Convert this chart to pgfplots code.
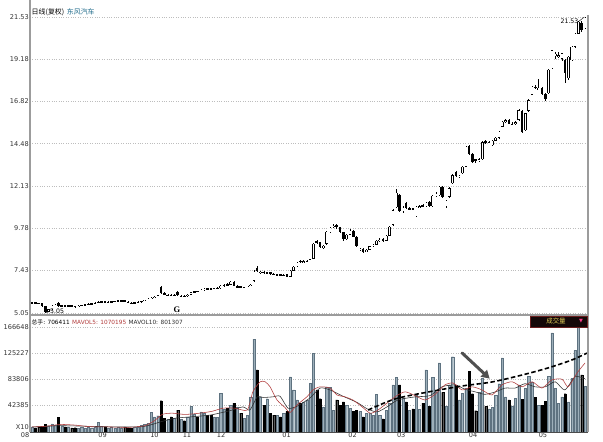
\documentclass[border=0pt]{standalone}
\usepackage{pgfplots}
\pgfplotsset{compat=1.18}
\usepackage{pgfplotstable}
\usepackage{fontspec}
\setmainfont{DejaVu Sans}
\newfontfamily\cjk{Noto Sans CJK SC}
\newfontfamily\serifb{Liberation Serif}
\usetikzlibrary{arrows.meta}

\definecolor{gridgray}{HTML}{BDBDBD}
\definecolor{framegray}{HTML}{9C9C9C}
\definecolor{volup}{HTML}{9DAFBA}
\definecolor{volupedge}{HTML}{5E7280}
\definecolor{ma5}{HTML}{B03A3A}
\definecolor{ma10}{HTML}{2E2E2E}
\definecolor{titleblue}{HTML}{1F6A8A}
\definecolor{boxbg}{HTML}{140808}
\definecolor{boxedge}{HTML}{6A1E1E}
\definecolor{boxyellow}{HTML}{E2CE58}
\definecolor{boxpink}{HTML}{FF3C8C}
\definecolor{arrowgray}{HTML}{505050}

% daily bars: index, open, high, low, close, volume
\pgfplotstableread{
i o h l c v
0 5.60 5.66 5.56 5.63 7000
1 5.63 5.66 5.58 5.60 6500
2 5.60 5.62 5.54 5.57 8000
3 5.58 5.60 5.38 5.42 9500
4 5.42 5.44 5.05 5.12 12000
5 5.12 5.30 5.08 5.27 10000
6 5.27 5.48 5.24 5.45 13000
7 5.45 5.56 5.42 5.52 11000
8 5.60 5.64 5.38 5.42 23000
9 5.42 5.50 5.38 5.47 9000
10 5.47 5.52 5.42 5.45 8000
11 5.45 5.50 5.40 5.48 8500
12 5.48 5.52 5.40 5.44 6500
13 5.44 5.46 5.36 5.40 7000
14 5.40 5.48 5.38 5.46 6000
15 5.46 5.52 5.44 5.50 7000
16 5.50 5.54 5.46 5.52 6000
17 5.52 5.58 5.50 5.56 7500
18 5.56 5.62 5.52 5.58 6500
19 5.58 5.66 5.56 5.63 8000
20 5.63 5.72 5.60 5.68 15000
21 5.68 5.72 5.64 5.70 9000
22 5.70 5.72 5.64 5.66 8000
23 5.66 5.70 5.62 5.67 6000
24 5.67 5.72 5.64 5.70 7000
25 5.70 5.74 5.66 5.72 6000
26 5.72 5.76 5.70 5.74 7000
27 5.74 5.78 5.70 5.75 6500
28 5.77 5.80 5.66 5.68 8000
29 5.68 5.70 5.58 5.62 7000
30 5.62 5.66 5.56 5.60 6000
31 5.60 5.66 5.58 5.63 7000
32 5.63 5.70 5.60 5.67 8000
33 5.67 5.74 5.64 5.72 11000
34 5.72 5.80 5.70 5.78 12000
35 5.78 5.86 5.76 5.84 14000
36 5.84 5.94 5.82 5.90 31000
37 5.90 6.00 5.88 5.96 24000
38 5.96 6.08 5.94 6.05 26000
39 6.48 6.58 6.12 6.16 50000
40 6.16 6.20 6.06 6.10 22000
41 6.04 6.10 6.00 6.07 20000
42 6.07 6.10 6.00 6.05 24000
43 6.05 6.10 6.00 6.06 22000
44 6.22 6.26 6.00 6.03 35000
45 5.96 6.04 5.94 6.00 20000
46 6.00 6.04 5.93 5.97 18000
47 5.97 6.10 5.95 6.08 24000
48 6.08 6.24 6.06 6.20 41000
49 6.20 6.28 6.16 6.25 28000
50 6.27 6.30 6.20 6.23 24000
51 6.23 6.36 6.22 6.34 32000
52 6.34 6.42 6.30 6.40 30000
53 6.43 6.46 6.36 6.39 27000
54 6.41 6.46 6.36 6.38 27000
55 6.38 6.46 6.36 6.44 24000
56 6.40 6.48 6.38 6.44 23000
57 6.44 6.60 6.40 6.57 62000
58 6.57 6.66 6.52 6.62 36000
59 6.64 6.70 6.56 6.60 38000
60 6.62 6.84 6.60 6.80 42000
61 6.80 6.84 6.54 6.56 46000
62 6.50 6.62 6.48 6.54 40000
63 6.54 6.56 6.44 6.47 30000
64 6.47 6.52 6.44 6.50 22000
65 6.50 6.58 6.48 6.56 27000
66 6.56 6.66 6.54 6.62 56000
67 6.85 7.42 6.80 7.35 148000
68 7.58 7.64 7.36 7.38 99000
69 7.28 7.38 7.22 7.34 56000
70 7.36 7.40 7.24 7.28 43000
71 7.26 7.34 7.22 7.31 53000
72 7.31 7.34 7.18 7.22 30000
73 7.22 7.28 7.14 7.18 27000
74 7.16 7.24 7.14 7.21 27000
75 7.21 7.24 7.12 7.16 24000
76 7.14 7.22 7.12 7.19 30000
77 7.22 7.24 7.04 7.07 33000
78 7.07 7.44 7.04 7.40 88000
79 7.40 7.66 7.38 7.62 67000
80 7.64 7.90 7.60 7.86 51000
81 7.96 8.02 7.86 7.90 46000
82 7.88 7.98 7.84 7.94 48000
83 7.94 8.00 7.88 7.96 51000
84 7.96 8.08 7.92 8.04 78000
85 8.08 8.96 8.04 8.90 125000
86 9.04 9.10 8.88 8.96 67000
87 8.98 9.00 8.66 8.70 53000
88 8.70 8.82 8.64 8.78 40000
89 8.90 9.60 8.86 9.56 72000
90 9.56 9.86 9.50 9.80 71000
91 9.82 10.02 9.76 9.92 35000
92 9.94 9.98 9.74 9.84 51000
93 9.82 9.86 9.50 9.55 43000
94 9.55 9.58 9.08 9.15 48000
95 9.15 9.46 9.10 9.42 43000
96 9.42 9.70 9.38 9.64 38000
97 9.62 9.66 9.26 9.30 33000
98 9.30 9.34 8.72 8.76 35000
99 8.56 8.66 8.50 8.62 33000
100 8.62 8.66 8.40 8.46 24000
101 8.46 8.62 8.44 8.58 30000
102 8.58 8.80 8.56 8.76 30000
103 8.76 8.90 8.72 8.86 27000
104 8.86 9.10 8.84 9.06 60000
105 9.06 9.20 9.00 9.12 27000
106 9.16 9.22 9.02 9.08 21000
107 9.08 9.40 9.06 9.36 35000
108 9.36 9.90 9.32 9.86 46000
109 9.96 10.85 9.90 10.78 75000
110 10.95 11.95 10.90 11.75 87000
111 11.62 11.70 10.66 10.72 75000
112 10.72 10.98 10.60 10.90 54000
113 11.17 11.22 10.86 10.90 48000
114 10.84 10.94 10.78 10.88 35000
115 10.88 10.92 10.78 10.82 37000
116 10.45 11.00 10.40 10.96 59000
117 10.92 11.08 10.88 10.98 36000
118 11.08 11.10 10.94 10.98 46000
119 10.98 11.24 10.94 11.20 99000
120 11.22 11.26 10.96 11.02 41000
121 10.98 11.64 10.94 11.58 87000
122 11.58 11.78 11.50 11.70 64000
123 11.62 12.12 11.58 12.08 110000
124 12.06 12.10 11.46 11.52 63000
125 10.98 11.34 10.92 11.30 41000
126 11.52 12.04 11.48 12.00 75000
127 12.27 12.80 12.24 12.73 120000
128 12.88 12.94 12.64 12.68 75000
129 12.62 12.76 12.56 12.68 51000
130 12.83 13.24 12.80 13.20 62000
131 13.20 14.36 13.16 14.30 70000
132 14.34 14.42 13.86 13.92 97000
133 13.92 13.98 13.42 13.47 61000
134 13.60 13.64 13.40 13.50 34000
135 13.52 13.66 13.46 13.60 63000
136 13.62 14.62 13.58 14.56 85000
137 14.62 14.66 14.46 14.50 41000
138 14.50 14.62 14.46 14.56 37000
139 14.40 14.68 14.36 14.64 39000
140 14.64 14.84 14.60 14.80 58000
141 14.80 15.18 14.76 15.14 77000
142 15.42 15.74 15.38 15.70 118000
143 15.70 15.84 15.62 15.78 56000
144 15.80 15.84 15.56 15.60 51000
145 15.48 15.66 15.46 15.56 41000
146 15.56 15.74 15.50 15.68 54000
147 15.80 16.40 15.76 16.35 75000
148 16.28 16.36 15.08 15.14 52000
149 15.24 16.20 15.20 16.16 70000
150 16.30 16.96 16.26 16.90 89000
151 17.20 17.70 17.16 17.64 80000
152 17.66 17.74 17.50 17.56 55000
153 17.50 18.10 17.46 17.58 43000
154 17.60 17.64 17.20 17.26 43000
155 17.24 17.30 16.86 16.94 49000
156 17.28 18.62 17.24 18.58 89000
157 18.67 19.72 18.62 19.69 158000
158 19.40 19.58 19.20 19.48 70000
159 19.30 19.60 19.24 19.40 46000
160 19.20 19.54 19.10 19.50 56000
161 19.13 19.20 17.85 18.40 61000
162 18.12 19.36 18.00 19.32 48000
163 19.13 19.90 19.08 19.87 85000
164 19.87 20.64 19.80 20.60 130000
165 20.60 21.30 20.56 21.27 168000
166 21.18 21.30 20.70 20.80 91000
167 20.90 21.53 20.84 21.50 73000
}\kline

\pgfplotsset{
  panel/.style={
    scale only axis, width=557bp,
    xmin=-0.6, xmax=167.6,
    axis line style={draw=none},
    major tick length=0pt,
    tick label style={font=\fontsize{6.6}{7}\selectfont, text=black!80},
    yticklabel style={inner sep=1bp},
    /pgf/number format/assume math mode=true,
    clip mode=individual,
  },
  % candle parts are drawn as vertical error bars around a hidden plot
  candle/.style={draw=none, mark=none,
    error bars/.cd, y dir=both, y explicit, error mark=none},
}

\begin{document}
\begin{tikzpicture}
\useasboundingbox (0,0) rectangle (603bp,442bp);

% ---------- price panel ----------
\begin{axis}[panel, at={(30bp,127bp)}, anchor=south west, height=310bp,
  ymin=4.939, ymax=22.198,
  ytick={5.05,7.43,9.78,12.13,14.48,16.82,19.18,21.53},
  yticklabels={5.05,7.43,9.78,12.13,14.48,16.82,19.18,21.53},
  xtick=\empty,
  ymajorgrids, grid style={gridgray, dotted, line width=0.5bp}]
  % shadows (high-low)
  \addplot[candle, error bar style={draw=black, line width=0.5bp}]
    table[x=i, y expr={(\thisrow{h}+\thisrow{l})/2},
          y error expr={(\thisrow{h}-\thisrow{l})/2}] {\kline};
  % real bodies
  \addplot[candle, error bar style={draw=black, line width=2.6bp}]
    table[x=i, y expr={(\thisrow{o}+\thisrow{c})/2},
          y error expr={max(abs(\thisrow{c}-\thisrow{o})/2,0.02)}] {\kline};
  % hollow inside of rising bodies
  \addplot[candle, error bar style={draw=white, line width=1.7bp}]
    table[x=i, y expr={(\thisrow{o}+\thisrow{c})/2},
          y error expr={max((\thisrow{c}-\thisrow{o})/2-0.026,0)}] {\kline};
  % low and high markers
  \draw[black, line width=0.4bp] (axis cs:4.3,5.06) -- (axis cs:5.3,5.14);
  \node[anchor=west, inner sep=0.5bp, font=\fontsize{6.2}{7}\selectfont] at (axis cs:5.3,5.17) {5.05};
  \draw[black, line width=0.4bp] (axis cs:165.2,21.30) -- (axis cs:166.8,21.53);
  \node[anchor=east, inner sep=0.5bp, font=\fontsize{6.2}{7}\selectfont] at (axis cs:165.2,21.30) {21.53};
  \node[font=\serifb\bfseries\fontsize{8.5}{9}\selectfont] at (axis cs:43.8,5.24) {G};
\end{axis}

% ---------- volume panel ----------
\begin{axis}[panel, at={(30bp,10bp)}, anchor=south west, height=116bp,
  ymin=0, ymax=184800,
  scaled y ticks=false,
  ytick={42385,83806,125227,166648},
  yticklabels={42385,83806,125227,166648},
  extra y ticks={8000}, extra y tick labels={X10},
  extra y tick style={grid=none},
  ymajorgrids, grid style={gridgray, dotted, line width=0.5bp},
  xtick={-0.6,22.8,38.5,48.3,58.6,78.4,98.3,113.0,134.7,155.8},
  xticklabels={08,09,10,11,12,01,02,03,04,05},
  xticklabel style={anchor=north east, inner sep=0.6bp}]
  \addplot[ybar, bar width=2.2bp, bar shift=0pt, fill=volup, draw=volupedge, line width=0.3bp]
    table[x=i, y expr={\thisrow{c}>=\thisrow{o} ? \thisrow{v} : 0}] {\kline};
  \addplot[ybar, bar width=2.0bp, bar shift=0pt, fill=black, draw=black, line width=0.2bp]
    table[x=i, y expr={\thisrow{c}<\thisrow{o} ? \thisrow{v} : 0}] {\kline};
  % MAVOL10
  \addplot[ma10, line width=0.55bp, smooth, tension=0.4] coordinates {
    (0,8000) (8.5,10000) (17.5,9000) (26.6,8000) (34,9000) (38.7,16000)
    (43.2,22000) (47.7,24000) (53.8,27000) (59.8,34000) (63.7,40000)
    (65.8,35000) (68,56000) (69.8,55000) (72.8,56000) (74.9,57000)
    (77.3,38000) (80,41000) (83.9,54000) (87,70000) (90,67000)
    (93.9,57000) (98.2,47000) (101.2,37000) (104.2,32000) (107.2,40000)
    (110.5,51000) (115.7,56000) (120.2,58000) (123.8,72000) (127.8,75000)
    (130.8,68000) (133.8,64000) (136.8,60000) (140,64000) (142.9,70000)
    (145.9,70000) (148.9,77000) (151.9,72000) (155,72000) (158,80000)
    (160.9,67000) (164,88000) (167,85000)};
  % MAVOL5
  \addplot[ma5, line width=0.55bp, smooth, tension=0.4] coordinates {
    (0,8000) (4,9000) (8.5,12000) (13,11000) (17.5,8500) (23.6,8000)
    (29.6,7500) (34,10000) (37,18000) (39.3,28000) (42.3,30000)
    (46.2,28000) (50.7,30000) (54.4,33000) (57.7,38000) (61.3,38000)
    (65,35000) (66.7,64000) (68.9,80000) (70.4,80000) (71.9,72000)
    (74,51000) (76.4,39000) (77.9,31000) (80,43000) (83,56000)
    (84.9,67000) (87,72000) (90,70000) (92.1,59000) (94.5,56000)
    (96.9,51000) (99.7,40000) (102.1,30000) (104.2,34000) (107.2,46000)
    (110.2,58000) (112.7,64000) (115.7,58000) (118.7,51000) (121.7,60000)
    (124.7,75000) (127.2,78000) (129.9,67000) (132.9,72000) (135.9,67000)
    (138.9,59000) (141.9,75000) (145,80000) (148,72000) (151,80000)
    (154,70000) (157,83000) (160.1,84000) (161.9,72000) (164.6,94000)
    (167,110000)};
  % rising volume trend
  \addplot[black, line width=1.6bp, dash pattern=on 4.5bp off 2.5bp, smooth, tension=0.5] coordinates {
    (101.5,35000) (109.6,52600) (119.6,63700) (129.9,73300) (138.9,79700)
    (148,90800) (155.8,102000) (163,114700) (167.6,125800)};
  \draw[arrowgray, line width=3bp, line cap=round,
        -{Triangle[length=8bp,width=9bp]}]
    (axis cs:129.9,125800) -- (axis cs:138.2,85000);
\end{axis}

% ---------- frames ----------
\draw[framegray, line width=1.8bp] (30bp,442bp) -- (30bp,10bp);
\draw[framegray, line width=1.8bp] (30bp,127bp) -- (588bp,127bp);
\draw[framegray, line width=1.4bp] (588bp,427bp) -- (588bp,10bp);
\draw[black!70, line width=0.6bp] (30bp,10bp) -- (588bp,10bp);

% ---------- panel headings ----------
\node[anchor=west, inner sep=0, font=\fontsize{7}{8}\selectfont] at (31.5bp,430bp)
  {{\cjk 日线(复权)}\hspace{2.5bp}{\cjk\color{titleblue}东风汽车}};
\node[anchor=west, inner sep=0, font=\fontsize{5.8}{7}\selectfont] at (31.5bp,120bp)
  {{\cjk 总手}: 706411\hspace{2.5bp}\textcolor{ma5}{MAVOL5: 1070195}\hspace{2.5bp}\textcolor{ma10}{MAVOL10: 801307}};
\draw[fill=boxbg, draw=boxedge, line width=0.6bp] (530bp,115bp) rectangle (587bp,126bp);
\node[inner sep=0, font=\cjk\fontsize{6.5}{7}\selectfont, text=boxyellow] at (556bp,120.5bp) {成交量};
\node[inner sep=0, font=\fontsize{5}{5}\selectfont, text=boxpink] at (581bp,120.8bp) {▼};
\end{tikzpicture}
\end{document}
